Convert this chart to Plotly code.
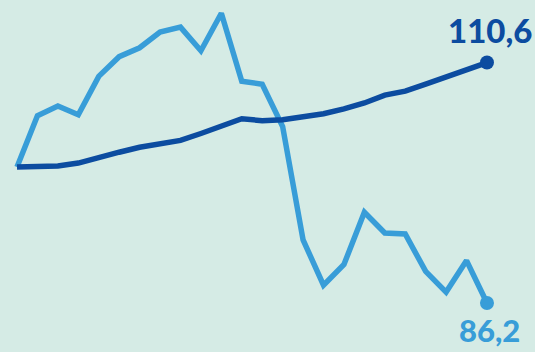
import plotly.graph_objects as go

periods = list(range(24))
dark_values = [100.0, 100.0, 100.1, 100.4, 101.0, 101.5, 102.0, 102.3, 102.7, 103.4,
               104.1, 104.9, 104.7, 104.8, 105.1, 105.4, 105.9, 106.5, 107.3, 107.7,
               108.4, 109.1, 109.8, 110.6]
light_values = [100.0, 105.2, 106.2, 105.3, 109.2, 111.2, 112.1, 113.7, 114.2, 111.8,
                115.6, 108.7, 108.4, 104.1, 92.6, 88.0, 90.1, 95.4, 93.3, 93.2,
                89.4, 87.3, 90.5, 86.2]
dark_label = "110,6"
light_label = "86,2"

DARK = "rgb(12,76,160)"
LIGHT = "rgb(56,157,216)"
BG = "rgb(213,235,229)"

fig = go.Figure()
fig.add_trace(go.Scatter(x=periods, y=light_values, mode="lines",
                         line=dict(color=LIGHT, width=5.5), hoverinfo="skip"))
fig.add_trace(go.Scatter(x=periods, y=dark_values, mode="lines",
                         line=dict(color=DARK, width=5.5), hoverinfo="skip"))
fig.add_trace(go.Scatter(x=[periods[-1]], y=[light_values[-1]], mode="markers",
                         marker=dict(color=LIGHT, size=14), hoverinfo="skip"))
fig.add_trace(go.Scatter(x=[periods[-1]], y=[dark_values[-1]], mode="markers",
                         marker=dict(color=DARK, size=14), hoverinfo="skip"))

fig.add_annotation(x=periods[-1], y=dark_values[-1], text=dark_label,
                   showarrow=False, xanchor="center", yanchor="bottom", yshift=11, xshift=3,
                   font=dict(family="Lato", size=33, color=DARK, weight=900))
fig.add_annotation(x=periods[-1], y=light_values[-1], text=light_label,
                   showarrow=False, xanchor="center", yanchor="top", yshift=-7, xshift=3,
                   borderpad=0,
                   font=dict(family="Lato", size=31, color=LIGHT, weight=900))

fig.update_layout(
    width=535, height=352,
    margin=dict(l=0, r=0, t=0, b=0),
    paper_bgcolor=BG, plot_bgcolor=BG,
    showlegend=False,
    xaxis=dict(range=[-0.832, 25.35], visible=False, fixedrange=True),
    yaxis=dict(range=[81.22, 116.95], visible=False, fixedrange=True),
)

fig.write_html("out.html")
